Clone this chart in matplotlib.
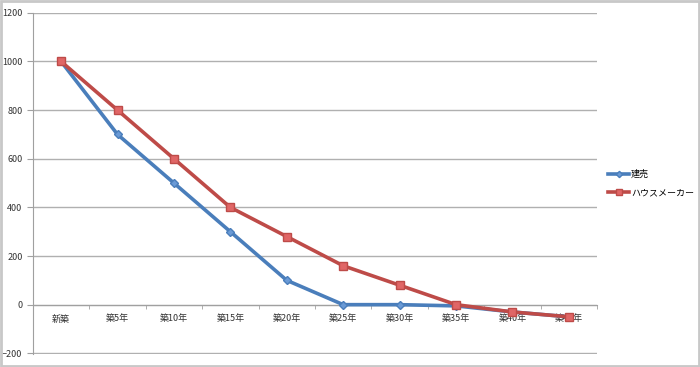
import numpy as np
import matplotlib
matplotlib.use("Agg")
import matplotlib.pyplot as plt

plt.rcParams['font.family'] = ['Noto Sans CJK JP', 'DejaVu Sans']

categories = ["新築", "築5年", "築10年", "築15年", "築20年",
              "築25年", "築30年", "築35年", "築40年", "築45年"]
tateuri = [1000, 700, 500, 300, 100, 0, 0, -5, -30, -50]
house_maker = [1000, 800, 600, 400, 280, 160, 80, 0, -30, -50]

fig = plt.figure(figsize=(7, 3.67), dpi=100)
ax = fig.add_axes([0.047, 0.036, 0.806, 0.929])

x = np.arange(len(categories))
ax.plot(x, tateuri, color="#4a7ebb", lw=2.6, marker="D", ms=4,
        mfc="#6a9ad6", mec="#4a7ebb", label="建売", zorder=3)
ax.plot(x, house_maker, color="#be4b48", lw=2.6, marker="s", ms=5.5,
        mfc="#e06666", mec="#be4b48", label="ハウスメーカー", zorder=4)

ax.set_xlim(-0.5, len(categories) - 0.5)
ax.set_ylim(-202, 1200)
ax.set_yticks(range(-200, 1201, 200))
ax.yaxis.grid(True, color="#b0b0b0", lw=1)
ax.set_axisbelow(True)

for s in ["top", "right"]:
    ax.spines[s].set_visible(False)
ax.spines["left"].set_color("#a0a0a0")
ax.spines["bottom"].set_position(("data", 0))
ax.spines["bottom"].set_color("#a0a0a0")

ax.set_xticks(x)
ax.set_xticklabels(categories, fontsize=6.5, color="#333333")
ax.set_xticks(np.arange(-0.5, len(categories)), minor=True)
ax.tick_params(axis="x", which="major", length=0, pad=7)
ax.tick_params(axis="x", which="minor", length=3, color="#a0a0a0")
ax.tick_params(axis="y", labelsize=6.5, colors="#333333", length=4, color="#a0a0a0")

ax.legend(loc="center left", bbox_to_anchor=(0.869, 0.5), bbox_transform=fig.transFigure,
          frameon=False, fontsize=6.5, handlelength=2.3, handletextpad=0.2,
          labelspacing=1.1, markerscale=0.8, borderpad=0, borderaxespad=0)

fig.patches.append(plt.Rectangle((0.002, 0.004), 0.996, 0.992, transform=fig.transFigure,
                                 fill=False, ec="#c8c8c8", lw=2))

fig.savefig("out.png")
